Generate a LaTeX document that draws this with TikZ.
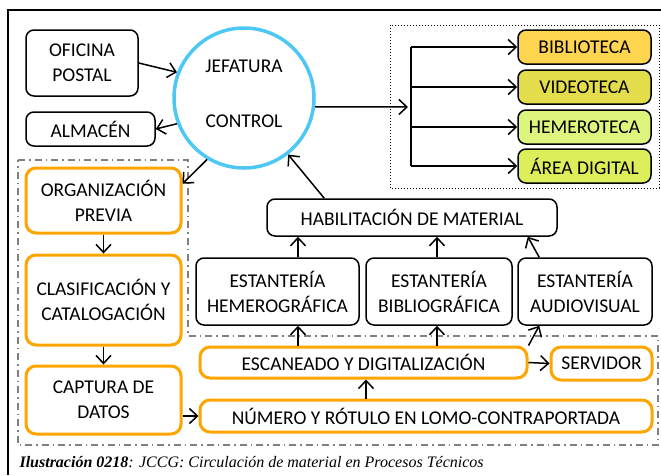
\documentclass[tikz,border=0pt]{standalone}
\usepackage{xcolor}
\usepackage{fontspec}
\setmainfont{Carlito}
\newfontfamily\capfont{Liberation Serif}
\usepackage{tikz}
\usetikzlibrary{arrows.meta, positioning, calc}

\definecolor{jefblue}{HTML}{4DC8F5}
\definecolor{procorange}{HTML}{FFA500}
\definecolor{bibfill}{HTML}{FFD54F}
\definecolor{vidfill}{HTML}{E4DD4B}
\definecolor{hemfill}{HTML}{DDF57C}
\definecolor{digfill}{HTML}{DCEF5A}

\begin{document}
\begin{tikzpicture}[
    x=1pt, y=-1pt,
    font=\fontsize{19.5}{25}\selectfont,
    box/.style={rectangle, rounded corners=8pt, draw=black, line width=1.5pt, align=center, inner sep=0pt},
    proc/.style={rectangle, rounded corners=10pt, draw=procorange, line width=3pt, align=center, inner sep=0pt},
    sala/.style={box, minimum width=133pt, minimum height=34pt},
    arrow/.style={-{Straight Barb[length=8pt,width=15pt]}, line width=1.5pt}
]
\useasboundingbox (0,0) rectangle (661,475);
\draw[line width=1.5pt] (8,475) -- (8,10) -- (661,10);

% jefatura
\node[circle, draw=jefblue, line width=3.5pt, minimum size=140pt, align=center, text depth=9pt] (jef) at (244,98) {JEFATURA\\[30pt]CONTROL};
\node[box, minimum width=112pt, minimum height=66pt] (ofi) at (82,63) {OFICINA\\POSTAL};
\node[box, minimum width=129pt, minimum height=34pt] (alm) at (90.5,129) {ALMACÉN};

% salas
\draw[dotted, line width=1pt] (390,25) rectangle (659,188);
\node[sala, fill=bibfill] (bib) at (584.5,47) {BIBLIOTECA};
\node[sala, fill=vidfill] (vid) at (584.5,87) {VIDEOTECA};
\node[sala, fill=hemfill] (hem) at (584.5,127) {HEMEROTECA};
\node[sala, fill=digfill] (dig) at (584.5,166) {ÁREA DIGITAL};

% procesos tecnicos
\draw[gray, line width=1.5pt, dash pattern=on 7pt off 4pt on 1.5pt off 4pt] (18,160) -- (188,160) -- (188,336) -- (658,336) -- (658,445) -- (18,445) -- cycle;
\node[proc, minimum width=155pt, minimum height=65pt] (org) at (103.5,200.5) {ORGANIZACIÓN\\PREVIA};
\node[proc, minimum width=155pt, minimum height=90pt] (cla) at (103.5,300) {CLASIFICACIÓN Y\\CATALOGACIÓN};
\node[proc, minimum width=155pt, minimum height=68pt] (cap) at (103.5,400) {CAPTURA DE\\DATOS};
\node[proc, minimum width=327pt, minimum height=31pt] (esc) at (363.5,362.5) {ESCANEADO Y DIGITALIZACIÓN};
\node[proc, minimum width=101pt, minimum height=33pt] (srv) at (601.5,363.5) {SERVIDOR};
\node[proc, minimum width=452pt, minimum height=32pt] (num) at (426,416) {NÚMERO Y RÓTULO EN LOMO-CONTRAPORTADA};

% estanterias
\node[box, minimum width=163pt, minimum height=67pt] (eh) at (277.5,291.5) {ESTANTERÍA\\HEMEROGRÁFICA};
\node[box, minimum width=146pt, minimum height=67pt] (eb) at (439,291.5) {ESTANTERÍA\\BIBLIOGRÁFICA};
\node[box, minimum width=134pt, minimum height=67pt] (ea) at (585,291.5) {ESTANTERÍA\\AUDIOVISUAL};
\node[box, minimum width=290pt, minimum height=37pt] (hab) at (412,217.5) {HABILITACIÓN DE MATERIAL};

\node[anchor=west, font=\capfont\fontsize{16}{18}\selectfont\itshape] (tit) at (16,462) {\textbf{Ilustración 0218}: JCCG: Circulación de material en Procesos Técnicos};

\coordinate (br) at (408,107);
\coordinate (fork) at (411,107);
\coordinate (c1) at (298,0);
\coordinate (c2) at (437,0);
\coordinate (c3) at (366,0);

\draw[arrow] (ofi.east) -- (jef.159);
\draw[arrow] (jef.201) -- (alm.east);
\draw[arrow] (jef.239) -- (org.12);
\draw[arrow] (jef.-7.4) -- (br);
\draw[line width=1.5pt] (fork |- bib.west) -- (fork |- dig.west);
\draw[arrow] (fork |- bib.west) -- (bib.west);
\draw[arrow] (fork |- vid.west) -- (vid.west);
\draw[arrow] (fork |- hem.west) -- (hem.west);
\draw[arrow] (fork |- dig.west) -- (dig.west);

\draw[arrow] (org) -- (cla);
\draw[arrow] (cla) -- (cap);
\draw[arrow] (cap.east |- num.west) -- (num.west);
\draw[arrow] (num.north -| c3) -- (esc.south -| c3);
\draw[arrow] (esc.north -| c1) -- (eh.south -| c1);
\draw[arrow] (esc.north -| c2) -- (eb.south -| c2);
\draw[arrow] (esc.north east) -- ([xshift=22pt]ea.south west);
\draw[arrow] (esc.east) -- (srv.west);

\draw[arrow] (eh.north -| c1) -- (hab.south -| c1);
\draw[arrow] (eb.north -| c2) -- (hab.south -| c2);
\draw[arrow] ([xshift=22pt]ea.north west) -- ([xshift=-30pt]hab.south east);
\draw[arrow] ([xshift=58pt]hab.north west) -- (jef.-52);
\end{tikzpicture}
\end{document}
